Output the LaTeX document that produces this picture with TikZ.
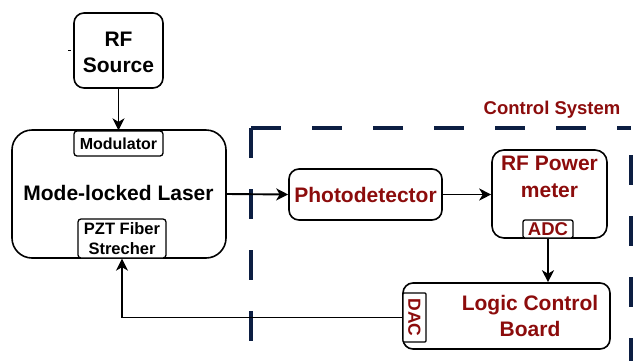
\documentclass[tikz,border=0pt]{standalone}
\usepackage{fontspec}
\setmainfont{Liberation Sans}
\usetikzlibrary{arrows.meta}
\definecolor{ctrlred}{RGB}{140,12,12}
\definecolor{navy}{RGB}{12,30,66}
\newcommand{\fsz}[2]{\fontsize{#1}{#2}\selectfont\bfseries}
\begin{document}
\begin{tikzpicture}[x=1pt,y=-1pt,
  box/.style={draw, line width=1.6pt, rounded corners=10pt, inner sep=0pt, anchor=center},
  tag/.style={draw, line width=1.3pt, rounded corners=3pt, fill=white, inner sep=0pt, anchor=center, align=center},
  lbl/.style={inner sep=0pt, align=center, anchor=center},
  flow/.style={line width=1.9pt, -{Stealth[length=12pt,width=12pt,inset=3.5pt]}},
  dashframe/.style={navy, line width=3.2pt, dash pattern=on 30pt off 31pt}
]
\useasboundingbox (0,0) rectangle (635,360);

% control system frame, dashed from the top-left corner outward
\draw[dashframe] (251,128) -- (631,128);
\draw[dashframe] (251,128) -- (251,360);
\draw[dashframe] (631,155) -- (631,372);
\node[lbl, text=ctrlred, font=\fsz{18.5}{22}] (ctrl) at (552,110) {Control System};

% source and laser
\node[box, minimum width=89pt, minimum height=75pt] (rf) at (118.5,50.5) {};
\node[lbl, font=\fsz{21}{26}] (rftxt) at (118.5,52) {RF\\Source};
\draw[line width=0.8pt] (68,50) -- (71,50);

\node[box, rounded corners=20pt, minimum width=214pt, minimum height=128pt] (laser) at (119,194) {};
\node[lbl, font=\fsz{21}{26}] (lasertxt) at (118.5,193) {Mode-locked Laser};
\node[tag, minimum width=89pt, minimum height=25pt, font=\fsz{16}{20}] (mod) at (118.5,143.5) {Modulator};
\node[tag, minimum width=88pt, minimum height=39pt, font=\fsz{16.5}{20}] (pzt) at (122,238.5) {PZT Fiber\\Strecher};

% detection chain
\node[box, minimum width=153pt, minimum height=51pt, text=ctrlred, font=\fsz{21}{26}] (pd) at (365.5,194.5) {Photodetector};
\node[box, rounded corners=12pt, minimum width=115pt, minimum height=88pt] (pm) at (549.5,194) {};
\node[lbl, text=ctrlred, font=\fsz{21}{27}] (pmtxt) at (549.5,177) {RF Power\\meter};
\node[tag, rounded corners=2pt, minimum width=50pt, minimum height=18pt, text=ctrlred, font=\fsz{18.5}{20}] (adc) at (548,229) {ADC};

\node[box, minimum width=207pt, minimum height=66pt] (logic) at (506.5,316) {};
\node[lbl, text=ctrlred, font=\fsz{21}{26}] (logictxt) at (530,316) {Logic Control\\Board};
\node[tag, rounded corners=1pt, minimum width=23pt, minimum height=49pt] (dac) at (414.5,317.5) {};
\node[lbl, rotate=-90, text=ctrlred, font=\fsz{17.5}{20}] (dactxt) at (414.5,317.5) {DAC};

% signal paths
\draw[flow] (rf.south) -- (mod.north);
\draw[flow] (laser.east) -- (pd.west);
\draw[flow] (pd.east) -- (pd.east -| pm.west);
\draw[flow] (adc.south) -- (adc.south |- logic.north);
\draw[flow] (dac.west) -| (pzt.south);
\end{tikzpicture}
\end{document}
